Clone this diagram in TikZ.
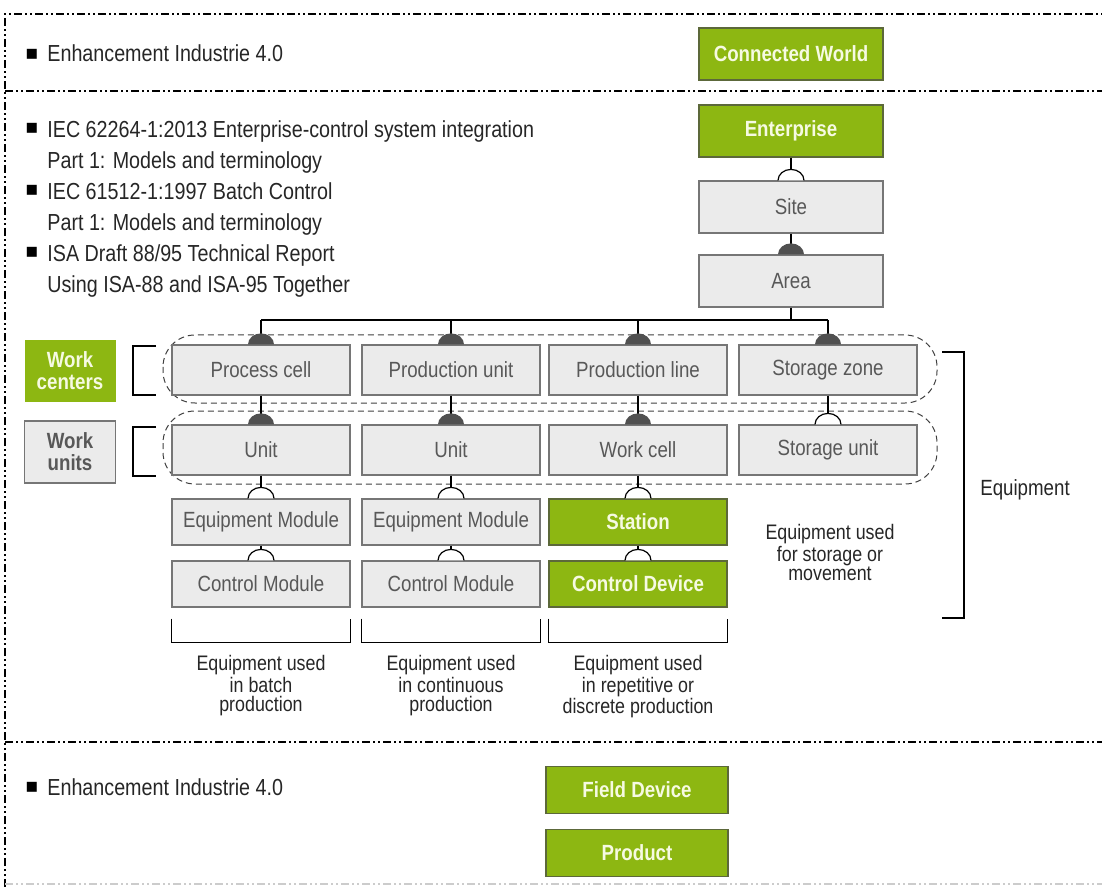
\documentclass[tikz,border=0pt]{standalone}
\usepackage{fontspec}
\setmainfont{Liberation Sans}[FakeStretch=0.85]
\newfontfamily\bulletfont{DejaVu Sans}
\usepackage{tikz}
\usetikzlibrary{positioning}
\definecolor{ragreen}{RGB}{141,183,18}
\definecolor{raedge}{RGB}{92,104,58}
\definecolor{ralight}{RGB}{246,250,226}
\definecolor{boxgrey}{RGB}{235,235,235}
\definecolor{edgegrey}{RGB}{118,118,118}
\definecolor{txtgrey}{RGB}{88,88,88}
\definecolor{capgrey}{RGB}{80,80,80}
\tikzstyle{greenbox}=[draw=raedge,fill=ragreen,text=ralight,font=\bfseries\fontsize{11}{11}\selectfont,minimum width=89pt,minimum height=25pt,line width=0.6pt]
\tikzstyle{greybox}=[draw=edgegrey,fill=boxgrey,text=txtgrey,font=\fontsize{11}{11}\selectfont,minimum width=89pt,minimum height=25pt,line width=0.6pt]
\tikzstyle{link}=[draw,line width=0.7pt]
\tikzstyle{frameline}=[line width=0.6pt,dash pattern=on 4pt off 1.5pt on 1pt off 1.5pt on 1pt off 1.5pt]
\tikzstyle{rowband}=[draw=black!75,densely dashed,line width=0.5pt,rounded corners=16pt]
\tikzstyle{bracket}=[draw,line width=0.8pt]
\tikzstyle{item}=[text=black!85,align=left,font=\fontsize{11.6}{15.5}\selectfont]
\tikzstyle{dot}=[font=\bulletfont\fontsize{10}{10}\selectfont]
\tikzstyle{caption}=[text=black!85,align=center,font=\fontsize{10.5}{9.6}\selectfont]
\newcommand{\fullcap}[1]{\fill[capgrey] ([xshift=-6.5pt]#1.north) arc[start angle=180,end angle=0,x radius=6.5pt,y radius=5.5pt] -- cycle;}
\newcommand{\opencap}[1]{\filldraw[fill=white,draw=black,line width=0.6pt] ([xshift=-6.5pt]#1.north) arc[start angle=180,end angle=0,x radius=6.5pt,y radius=5.5pt];}
\begin{document}
\begin{tikzpicture}[x=0.5pt,y=-0.5pt,every node/.style={inner sep=0pt}]
  \useasboundingbox (0,0) rectangle (1102,887);

  % frame and separators
  \draw[frameline] (5,887) -- (5,14) -- (1102,14);
  \draw[frameline] (5,91) -- (1102,91);
  \draw[frameline] (5,742) -- (1102,742);
  \draw[frameline,black!20] (5,884) -- (1102,884);

  % upper part
  \node[dot] (b0) at (32,54) {▪};
  \node[item,anchor=base west] (enh1) at (47,62) {Enhancement Industrie 4.0};
  \node[greenbox,minimum width=92pt,minimum height=26pt] (CW) at (791,54) {Connected World};

  % standards
  \node[dot] (b1) at (32,128) {▪};
  \node[item,anchor=north west] (iec1) at (47,120) {IEC 62264-1:2013 Enterprise-control system integration\\Part 1: Models and terminology};
  \node[dot] (b2) at (32,190) {▪};
  \node[item,anchor=north west] (iec2) at (47,182) {IEC 61512-1:1997 Batch Control\\Part 1: Models and terminology};
  \node[dot] (b3) at (32,252) {▪};
  \node[item,anchor=north west] (isa) at (47,244) {ISA Draft 88/95 Technical Report\\Using ISA-88 and ISA-95 Together};

  \node[greenbox,minimum width=92pt,minimum height=26pt] (EN) at (791,131) {Enterprise};
  \node[greybox,minimum width=92pt,minimum height=26pt] (SI) at (791,207) {Site};
  \node[greybox,minimum width=92pt,minimum height=26pt] (AR) at (791,281) {Area};

  % dashed bands behind the rows
  \draw[rowband] (163,335) rectangle (937,403);
  \draw[rowband] (163,411) rectangle (937,484);

  % work centers
  \node[greybox] (PC) at (261,370) {Process cell};
  \node[greybox] (PU) at (451,370) {Production unit};
  \node[greybox] (PL) at (638,370) {Production line};
  \node[greybox] (SZ) at (828,370) {Storage zone};
  % work units
  \node[greybox] (U1) at (261,450) {Unit};
  \node[greybox] (U2) at (451,450) {Unit};
  \node[greybox] (WC) at (638,450) {Work cell};
  \node[greybox] (SU) at (828,450) {Storage unit};
  % modules
  \node[greybox,minimum height=23pt] (EM1) at (261,522) {Equipment Module};
  \node[greybox,minimum height=23pt] (EM2) at (451,522) {Equipment Module};
  \node[greenbox,minimum height=23pt] (ST) at (638,522) {Station};
  \node[greybox,minimum height=23pt] (CM1) at (261,584) {Control Module};
  \node[greybox,minimum height=23pt] (CM2) at (451,584) {Control Module};
  \node[greenbox,minimum height=23pt] (CD) at (638,584) {Control Device};

  % left labels
  \node[greenbox,draw=none,minimum width=45.5pt,minimum height=31pt,align=center] (WCtr) at (70,371) {Work\\centers};
  \node[greybox,minimum width=45.5pt,minimum height=31pt,align=center,font=\bfseries\fontsize{11}{11}\selectfont] (WUn) at (70,452) {Work\\units};
  \draw[bracket] (156,346) -| (133,395) -- (156,395);
  \draw[bracket] (156,427) -| (133,476) -- (156,476);

  % connectors
  \draw[link] (EN.south) -- (SI.north); \opencap{SI}
  \draw[link] (SI.south) -- (AR.north); \fullcap{AR}
  \coordinate (bus) at (791,320);
  \draw[link] (AR.south) -- (bus);
  \draw[link] (PC.north |- bus) -- (SZ.north |- bus);
  \foreach \n in {PC,PU,PL,SZ} {
    \draw[link] (\n.north |- bus) -- (\n.north); \fullcap{\n}
  }
  \foreach \a/\b in {PC/U1,PU/U2,PL/WC} {
    \draw[link] (\a.south) -- (\b.north); \fullcap{\b}
  }
  \draw[link] (SZ.south) -- (SU.north); \opencap{SU}
  \foreach \a/\b in {U1/EM1,U2/EM2,WC/ST,EM1/CM1,EM2/CM2,ST/CD} {
    \draw[link] (\a.south) -- (\b.north); \opencap{\b}
  }

  % brackets and captions
  \foreach \n in {CM1,CM2,CD} {
    \draw[bracket] ([yshift=-5.5pt]\n.south west) |- ([yshift=-17.5pt]\n.south east) -- ([yshift=-5.5pt]\n.south east);
  }
  \node[caption,anchor=north] (cap1) at (261,655) {Equipment used\\in batch\\production};
  \node[caption,anchor=north] (cap2) at (451,655) {Equipment used\\in continuous\\production};
  \node[caption,anchor=north] (cap3) at (638,655) {Equipment used\\in repetitive or\\discrete production};
  \node[caption,anchor=north] (cap4) at (830,524) {Equipment used\\for storage or\\movement};

  \draw[bracket] (942,352) -| (964,618) -- (942,618);
  \node[caption,font=\fontsize{11}{11}\selectfont] (equip) at (1025,490) {Equipment};

  % lower part
  \node[dot] (b4) at (32,787) {▪};
  \node[item,anchor=base west] (enh2) at (47,795) {Enhancement Industrie 4.0};
  \node[greenbox,minimum width=91pt,minimum height=23.5pt] (FD) at (637,790) {Field Device};
  \node[greenbox,minimum width=91pt,minimum height=23.5pt] (PR) at (637,853) {Product};
\end{tikzpicture}
\end{document}
